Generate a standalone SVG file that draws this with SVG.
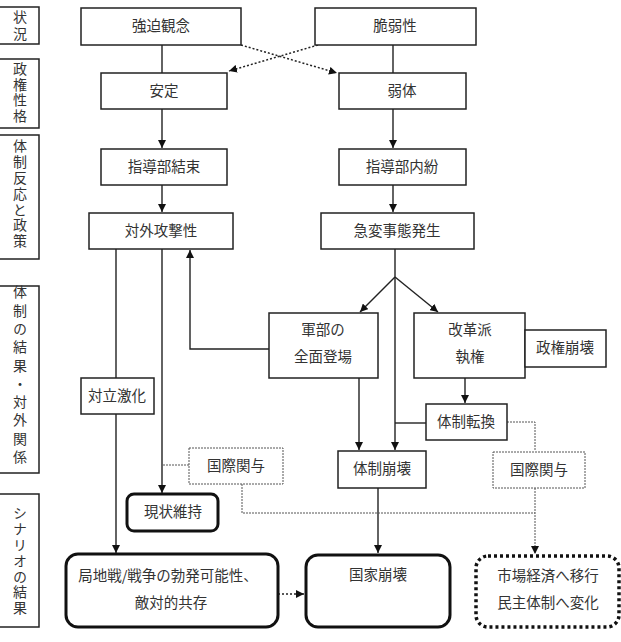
<svg xmlns="http://www.w3.org/2000/svg" width="621" height="642" viewBox="0 0 621 642">
<defs>
<style>
text{font-family:"Noto Sans CJK JP","Noto Sans CJK SC",sans-serif;fill:#333;font-size:14.5px;text-anchor:middle}
.lbl text{font-size:14px;writing-mode:vertical-rl;text-anchor:start}
.box{fill:#fff;stroke:#222;stroke-width:1.5}
.thick{fill:#fff;stroke:#111;stroke-width:3}
.dbox{fill:#fff;stroke:#555;stroke-width:1;stroke-dasharray:2 1}
.ddot{fill:#fff;stroke:#111;stroke-width:3.5;stroke-dasharray:3 3}
.ln{fill:none;stroke:#222;stroke-width:1.4}
.dl{fill:none;stroke:#555;stroke-width:1;stroke-dasharray:2 1}
.dx{fill:none;stroke:#222;stroke-width:1.5;stroke-dasharray:2 2}
</style>
<marker id="ah" markerUnits="userSpaceOnUse" markerWidth="9" markerHeight="8" refX="8" refY="4" orient="auto"><path d="M0,0 L8,4 L0,8 z" fill="#111"/></marker>
</defs>
<rect width="621" height="642" fill="#fff"/>

<g class="lbl" id="labels">
<g id="lbl1"><rect class="box" x="-1" y="7" width="40" height="37"/><text><tspan x="20" y="10">状</tspan><tspan x="20" y="27">況</tspan></text></g>
<g id="lbl2"><rect class="box" x="-1" y="59" width="40" height="69"/><text><tspan x="20" y="62">政</tspan><tspan x="20" y="77.5">権</tspan><tspan x="20" y="93">性</tspan><tspan x="20" y="108.5">格</tspan></text></g>
<g id="lbl3"><rect class="box" x="-1" y="135" width="40" height="124"/><text><tspan x="20" y="139">体</tspan><tspan x="20" y="154.8">制</tspan><tspan x="20" y="170.6">反</tspan><tspan x="20" y="186.4">応</tspan><tspan x="20" y="202.2">と</tspan><tspan x="20" y="218">政</tspan><tspan x="20" y="233.8">策</tspan></text></g>
<g id="lbl4"><rect class="box" x="-1" y="286" width="40" height="187"/><text><tspan x="20" y="285">体</tspan><tspan x="20" y="303.3">制</tspan><tspan x="20" y="321.6">の</tspan><tspan x="20" y="339.9">結</tspan><tspan x="20" y="358.2">果</tspan><tspan x="20" y="376.5">・</tspan><tspan x="20" y="394.8">対</tspan><tspan x="20" y="413.1">外</tspan><tspan x="20" y="431.4">関</tspan><tspan x="20" y="449.7">係</tspan></text></g>
<g id="lbl5"><rect class="box" x="-1" y="494" width="40" height="133"/><text><tspan x="20" y="506">シ</tspan><tspan x="20" y="521.8">ナ</tspan><tspan x="20" y="537.6">リ</tspan><tspan x="20" y="553.4">オ</tspan><tspan x="20" y="569.2">の</tspan><tspan x="20" y="585">結</tspan><tspan x="20" y="600.8">果</tspan></text></g>
</g>

<g id="connectors">
<path class="ln" d="M162,45 V73"/>
<path class="ln" d="M393,45 V73"/>
<path class="ln" d="M162,109 V148" marker-end="url(#ah)"/>
<path class="ln" d="M393,109 V148" marker-end="url(#ah)"/>
<path class="ln" d="M162,185 V212" marker-end="url(#ah)"/>
<path class="ln" d="M393,185 V212" marker-end="url(#ah)"/>
<path class="dx" d="M241,45 L337,73" marker-end="url(#ah)"/>
<path class="dx" d="M318,45 L229,71" marker-end="url(#ah)"/>
<path class="ln" d="M116,249 V378"/>
<path class="ln" d="M116,414 V553" marker-end="url(#ah)"/>
<path class="ln" d="M162,249 V493" marker-end="url(#ah)"/>
<path class="ln" d="M269,349 H190 V250" marker-end="url(#ah)"/>
<path class="ln" d="M395,249 V277"/>
<path class="ln" d="M395,277 L360,312" marker-end="url(#ah)"/>
<path class="ln" d="M395,277 L438,312" marker-end="url(#ah)"/>
<path class="ln" d="M395,277 V450" marker-end="url(#ah)"/>
<path class="ln" d="M359,378 V450" marker-end="url(#ah)"/>
<path class="ln" d="M465,378 V403" marker-end="url(#ah)"/>
<path class="ln" d="M426,423 H395"/>
<path class="ln" d="M378,488 V553" marker-end="url(#ah)"/>
<path class="dl" d="M507,422 H535 V451"/>
<path class="dl" d="M535,488 V554" marker-end="url(#ah)"/>
<path class="dl" d="M189,465 H162"/>
<path class="dl" d="M242,484 V513 H535"/>
<path class="dx" d="M278,594 H304" marker-end="url(#ah)"/>
</g>

<g id="n1"><rect class="box" x="81" y="8" width="160" height="37"/><text x="161" y="31">強迫観念</text></g>
<g id="n2"><rect class="box" x="315" y="8" width="161" height="37"/><text x="395" y="31">脆弱性</text></g>
<g id="n3"><rect class="box" x="101" y="73" width="126" height="36"/><text x="164" y="96">安定</text></g>
<g id="n4"><rect class="box" x="339" y="73" width="127" height="36"/><text x="402" y="96">弱体</text></g>
<g id="n5"><rect class="box" x="101" y="149" width="126" height="36"/><text x="164" y="172">指導部結束</text></g>
<g id="n6"><rect class="box" x="339" y="149" width="127" height="36"/><text x="402" y="172">指導部内紛</text></g>
<g id="n7"><rect class="box" x="89" y="213" width="144" height="36"/><text x="161" y="236">対外攻撃性</text></g>
<g id="n8"><rect class="box" x="321" y="213" width="153" height="36"/><text x="397" y="236">急変事態発生</text></g>
<g id="n9"><rect class="box" x="269" y="313" width="109" height="65"/><text x="323" y="335">軍部の</text><text x="323" y="362">全面登場</text></g>
<g id="n10"><rect class="box" x="414" y="313" width="111" height="65"/><text x="470" y="335">改革派</text><text x="470" y="362">執権</text></g>
<g id="n11"><rect class="box" x="525" y="330" width="81" height="37"/><text x="565" y="353">政権崩壊</text></g>
<g id="n12"><rect class="box" x="81" y="378" width="73" height="36"/><text x="117" y="401">対立激化</text></g>
<g id="n13"><rect class="box" x="426" y="404" width="81" height="36"/><text x="466" y="427">体制転換</text></g>
<g id="n14"><rect class="box" x="338" y="451" width="88" height="37"/><text x="382" y="474">体制崩壊</text></g>
<g id="n15"><rect class="dbox" x="189" y="448" width="94" height="36"/><text x="236" y="471">国際関与</text></g>
<g id="n16"><rect class="dbox" x="493" y="452" width="92" height="36"/><text x="539" y="475">国際関与</text></g>
<g id="n17"><rect class="thick" x="127" y="494" width="91" height="37" rx="7"/><text x="173" y="517">現状維持</text></g>
<g id="n18"><rect class="thick" x="66" y="554" width="212" height="73" rx="12"/><text x="168" y="581">局地戦/戦争の勃発可能性、</text><text x="171" y="608">敵対的共存</text></g>
<g id="n19"><rect class="thick" x="306" y="555" width="144" height="72" rx="12"/><text x="378" y="580">国家崩壊</text></g>
<g id="n20"><rect class="ddot" x="476" y="556" width="143" height="71" rx="12"/><text x="548" y="581">市場経済へ移行</text><text x="548" y="608">民主体制へ変化</text></g>
</svg>
